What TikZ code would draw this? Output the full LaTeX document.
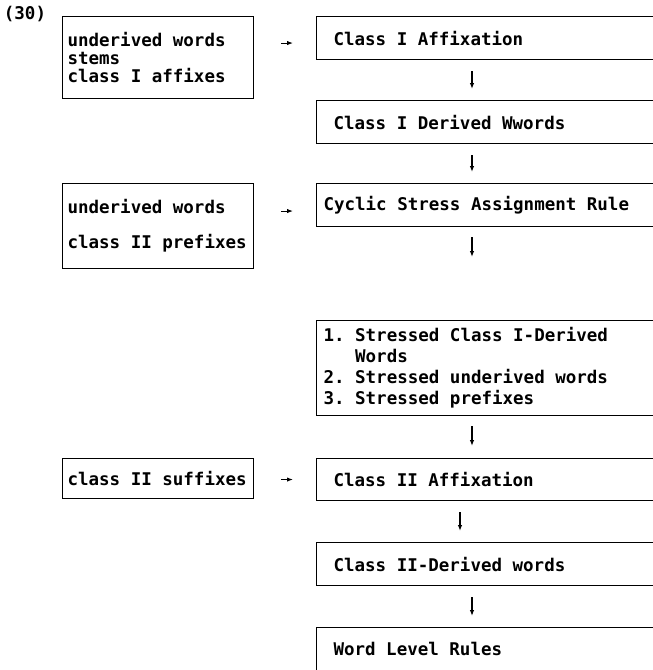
\documentclass[tikz,border=0pt]{standalone}
\usepackage{fontspec}
\newfontfamily\diagfont{DejaVu Sans Mono}
\usetikzlibrary{arrows.meta,positioning}

\newcommand{\boxfont}[1]{\diagfont\bfseries\fontsize{17.5}{#1}\selectfont} % 箱の文字（等幅・太字）
\newcommand{\gap}{\hbox to 0.602em{}} % 1文字分の空白

\tikzset{
  lbox/.style={draw, line width=1.1pt, anchor=north west, align=left, inner xsep=5pt, text width=181pt, font=\boxfont{18}},
  rbox/.style={draw, line width=1.1pt, anchor=north west, align=left, inner xsep=17pt, text width=400pt, minimum height=43pt, font=\boxfont{18}},
  arr/.style={line width=1.1pt, -{Latex[length=6pt,width=4.5pt]}}
}

\begin{document}
\begin{tikzpicture}[x=1pt,y=-1pt]
  \useasboundingbox (0,0) rectangle (653,670); % 画像の範囲
  \clip (0,0) rectangle (653,670); % 右側の箱は切れている
  \node[font=\boxfont{18}] (num) at (25,14) {(30)}; % 例文番号
  % 左側の入力の箱
  \node[lbox, minimum height=82pt] (l1) at (62,16) {underived\gap words\\stems\\class\gap I\gap affixes};
  \node[lbox, minimum height=85pt, font=\boxfont{35}] (l2) at (62,183) {underived\gap words\\class\gap II\gap prefixes};
  \node[lbox, minimum height=40pt] (l3) at (62,458) {class\gap II\gap suffixes};
  % 右側の流れの箱
  \node[rbox] (r1) at (316,16) {Class\gap I\gap Affixation};
  \node[rbox] (r2) at (316,100) {Class\gap I\gap Derived\gap Wwords};
  \node[rbox, inner xsep=7pt] (r3) at (316,183) {Cyclic\gap Stress\gap Assignment\gap Rule};
  \node[rbox, inner xsep=7pt, minimum height=95pt, font=\boxfont{21}] (r4) at (316,320) {1.\gap Stressed\gap Class\gap I-Derived\\\leavevmode\gap\gap\gap Words\\2.\gap Stressed\gap underived\gap words\\3.\gap Stressed\gap prefixes};
  \node[rbox, minimum height=42pt] (r5) at (316,458) {Class\gap II\gap Affixation};
  \node[rbox] (r6) at (316,542) {Class\gap II-Derived\gap words};
  \node[rbox] (r7) at (316,627) {Word\gap Level\gap Rules};
  % 横向きの矢印
  \draw[arr, shorten <=27pt, shorten >=23pt] ([yshift=-5pt]l1.east |- r1.west) -- ([yshift=-5pt]r1.west);
  \draw[arr, shorten <=27pt, shorten >=23pt] ([yshift=-6pt]l2.east |- r3.west) -- ([yshift=-6pt]r3.west);
  \draw[arr, shorten <=27pt, shorten >=23pt] (l3.east |- r5.west) -- (r5.west);
  % 下向きの矢印
  \draw[arr, shorten <=11pt, shorten >=11pt] ([xshift=156pt]r1.south west) -- ([xshift=156pt]r2.north west);
  \draw[arr, shorten <=11pt, shorten >=11pt] ([xshift=156pt]r2.south west) -- ([xshift=156pt]r3.north west);
  \draw[arr, shorten <=10pt, shorten >=63pt] ([xshift=156pt]r3.south west) -- ([xshift=156pt]r4.north west);
  \draw[arr, shorten <=10pt, shorten >=12pt] ([xshift=156pt]r4.south west) -- ([xshift=156pt]r5.north west);
  \draw[arr, shorten <=11pt, shorten >=11pt] ([xshift=144pt]r5.south west) -- ([xshift=144pt]r6.north west);
  \draw[arr, shorten <=11pt, shorten >=11pt] ([xshift=156pt]r6.south west) -- ([xshift=156pt]r7.north west);
\end{tikzpicture}
\end{document}
